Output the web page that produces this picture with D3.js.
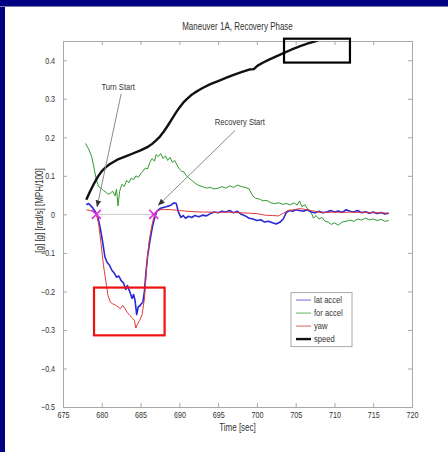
<!DOCTYPE html>
<html>
<head>
<meta charset="UTF-8">
<title>Maneuver 1A, Recovery Phase</title>
<script src="https://d3js.org/d3.v7.min.js"></script>
<style>
    body { margin: 0; background: #000080; }
    svg { display: block; }
    text { font-family: "Liberation Sans", Arial, sans-serif; fill: #333; }
    /* the original uses a narrow face; squeeze the glyphs horizontally */
    .nar { transform-box: fill-box; transform-origin: center; transform: scaleX(0.8); }
    .nar-r { transform-box: fill-box; transform-origin: right center; transform: scaleX(0.8); }
    .nar-l { transform-box: fill-box; transform-origin: left center; transform: scaleX(0.8); }
</style>
</head>
<body>
<svg id="chart" width="448" height="452"></svg>
<script>
// data: [time sec, value]
const latAccel = [
    [678.0, 0.025], [678.3, 0.028], [678.6, 0.022], [678.9, 0.015], [679.2, 0.006], [679.5, -0.008],
    [679.8, -0.035], [680.1, -0.07], [680.4, -0.11], [680.7, -0.125], [681.0, -0.132], [681.3, -0.145],
    [681.6, -0.152], [681.9, -0.163], [682.2, -0.16], [682.5, -0.172], [682.8, -0.178], [683.1, -0.195],
    [683.3, -0.185], [683.6, -0.2], [683.9, -0.218], [684.1, -0.208], [684.3, -0.225], [684.5, -0.26],
    [684.7, -0.24], [684.9, -0.238], [685.1, -0.232], [685.3, -0.228], [685.5, -0.2], [685.7, -0.15],
    [685.9, -0.11], [686.2, -0.07], [686.5, -0.035], [686.8, -0.01], [687.1, 0.008], [687.5, 0.015],
    [687.9, 0.018], [688.3, 0.02], [688.7, 0.022], [689.0, 0.025], [689.3, 0.03], [689.6, 0.028],
    [689.9, 0.005], [690.2, -0.008], [690.5, -0.003], [690.8, -0.01], [691.2, -0.005], [691.6, -0.008],
    [692.0, -0.003], [692.5, -0.006], [693.0, -0.002], [693.5, -0.004], [694.0, 0.002], [694.5, 0.006],
    [695.0, 0.004], [695.5, 0.008], [696.0, 0.006], [696.5, 0.01], [697.0, 0.004], [697.5, 0.008],
    [698.0, 0.0], [698.5, -0.004], [699.0, -0.01], [699.5, -0.012], [700.0, -0.016], [700.5, -0.014],
    [701.0, -0.02], [701.5, -0.018], [702.0, -0.022], [702.5, -0.025], [703.0, -0.02], [703.4, -0.012],
    [703.8, 0.005], [704.2, 0.01], [704.6, 0.008], [705.0, 0.012], [705.5, 0.01], [706.0, 0.008],
    [706.5, 0.012], [707.0, 0.006], [707.5, 0.004], [708.0, 0.008], [708.5, 0.004], [709.0, 0.006],
    [709.5, 0.01], [710.0, 0.006], [710.5, 0.009], [711.0, 0.005], [711.5, 0.012], [712.0, 0.008],
    [712.5, 0.006], [713.0, 0.01], [713.5, 0.004], [714.0, 0.007], [714.5, 0.003], [715.0, 0.006],
    [715.5, 0.002], [716.0, 0.005], [716.5, 0.001], [717.0, 0.003]
];
const forAccel = [
    [677.9, 0.184], [678.3, 0.17], [678.7, 0.15], [679.0, 0.12], [679.3, 0.09], [679.6, 0.072],
    [679.9, 0.068], [680.2, 0.062], [680.5, 0.058], [680.8, 0.052], [681.1, 0.055], [681.4, 0.06],
    [681.7, 0.048], [681.9, 0.065], [682.1, 0.022], [682.3, 0.06], [682.6, 0.078], [682.9, 0.072],
    [683.2, 0.088], [683.5, 0.082], [683.8, 0.094], [684.1, 0.09], [684.4, 0.1], [684.7, 0.096],
    [685.0, 0.105], [685.3, 0.112], [685.6, 0.12], [685.9, 0.118], [686.2, 0.135], [686.5, 0.145],
    [686.8, 0.138], [687.0, 0.155], [687.3, 0.15], [687.6, 0.158], [687.9, 0.145], [688.2, 0.152],
    [688.5, 0.14], [688.8, 0.148], [689.1, 0.135], [689.4, 0.14], [689.7, 0.128], [690.0, 0.118],
    [690.3, 0.112], [690.6, 0.11], [690.9, 0.1], [691.2, 0.095], [691.5, 0.09], [691.8, 0.085],
    [692.1, 0.08], [692.5, 0.075], [693.0, 0.072], [693.5, 0.068], [694.0, 0.07], [694.5, 0.066],
    [695.0, 0.068], [695.5, 0.072], [696.0, 0.068], [696.5, 0.074], [697.0, 0.07], [697.5, 0.076],
    [698.0, 0.072], [698.5, 0.07], [699.0, 0.066], [699.4, 0.05], [699.8, 0.042], [700.3, 0.04],
    [700.8, 0.035], [701.3, 0.036], [701.8, 0.03], [702.3, 0.028], [702.8, 0.03], [703.3, 0.026],
    [703.8, 0.028], [704.3, 0.025], [704.8, 0.03], [705.2, 0.024], [705.5, 0.035], [705.8, 0.02],
    [706.2, 0.025], [706.6, 0.012], [707.0, 0.005], [707.3, -0.01], [707.6, -0.003], [708.0, -0.012],
    [708.4, -0.008], [708.8, -0.018], [709.2, -0.02], [709.6, -0.026], [710.0, -0.022], [710.5, -0.028],
    [711.0, -0.02], [711.5, -0.018], [712.0, -0.015], [712.5, -0.018], [713.0, -0.012], [713.5, -0.015],
    [714.0, -0.01], [714.5, -0.014], [715.0, -0.012], [715.5, -0.016], [716.0, -0.013], [716.5, -0.018],
    [717.0, -0.016]
];
const yaw = [
    [678.0, 0.012], [678.5, 0.01], [679.0, 0.006], [679.3, 0.0], [679.6, -0.025], [679.9, -0.075],
    [680.2, -0.13], [680.5, -0.17], [680.8, -0.21], [681.1, -0.228], [681.4, -0.232], [681.8, -0.236],
    [682.1, -0.24], [682.4, -0.245], [682.7, -0.236], [683.0, -0.245], [683.3, -0.255], [683.6, -0.262],
    [683.9, -0.268], [684.2, -0.275], [684.4, -0.295], [684.6, -0.285], [684.9, -0.275], [685.2, -0.26],
    [685.5, -0.22], [685.8, -0.13], [686.1, -0.07], [686.4, -0.035], [686.7, -0.008], [687.0, 0.006],
    [687.5, 0.012], [688.0, 0.013], [689.0, 0.012], [690.0, 0.01], [691.0, 0.008], [692.0, 0.007],
    [693.0, 0.006], [694.0, 0.006], [695.0, 0.005], [696.0, 0.006], [697.0, 0.005], [698.0, 0.004],
    [699.0, 0.003], [700.0, 0.002], [701.0, -0.002], [702.0, -0.003], [702.8, -0.004], [703.5, 0.004],
    [704.0, 0.01], [704.8, 0.012], [705.5, 0.015], [706.2, 0.013], [707.0, 0.01], [708.0, 0.006],
    [709.0, 0.005], [710.0, 0.006], [711.0, 0.005], [712.0, 0.006], [713.0, 0.005], [714.0, 0.006],
    [715.0, 0.004], [716.0, 0.004], [717.0, 0.003]
];
const speed = [
    [678.0, 0.038], [678.5, 0.06], [679.0, 0.08], [679.5, 0.098], [680.0, 0.112], [680.5, 0.122],
    [681.0, 0.13], [682.0, 0.142], [683.0, 0.15], [684.0, 0.158], [685.0, 0.166], [686.0, 0.176],
    [686.5, 0.183], [687.0, 0.192], [687.5, 0.202], [688.0, 0.215], [688.5, 0.23], [689.0, 0.246],
    [689.5, 0.262], [690.0, 0.277], [690.5, 0.29], [691.0, 0.3], [691.5, 0.309], [692.0, 0.316],
    [692.5, 0.322], [693.0, 0.328], [694.0, 0.338], [695.0, 0.346], [696.0, 0.354], [697.0, 0.362],
    [698.0, 0.369], [699.0, 0.376], [699.6, 0.377], [700.1, 0.386], [700.7, 0.393], [701.5, 0.401],
    [702.5, 0.41], [703.5, 0.419], [704.5, 0.428], [705.5, 0.436], [706.5, 0.443], [707.5, 0.449],
    [708.2, 0.455]
];

const xTicks = [675, 680, 685, 690, 695, 700, 705, 710, 715, 720];
const yTicks = [0.4, 0.3, 0.2, 0.1, 0, -0.1, -0.2, -0.3, -0.4, -0.5];

const seriesNames = ["lat accel", "for accel", "yaw", "speed"];

// event markers (x) and annotation callouts
const events = [679.3, 686.7];
const callouts = [
    { label: "Turn Start", tx: 682.1, ty: 0.332, x1: 682.5, y1: 0.313, x2: 679.4, y2: 0.02 },
    { label: "Recovery Start", tx: 697.8, ty: 0.241, x1: 697.2, y1: 0.218, x2: 687.3, y2: 0.024 }
];
const boxes = [
    { x0: 679.0, x1: 688.1, y0: -0.19, y1: -0.314, color: "#ee1111" },
    { x0: 703.5, x1: 712.0, y0: 0.456, y1: 0.394, color: "#000" }
];

const margin = { top: 41, right: 36, bottom: 45, left: 63 },
    W = 448, H = 452,
    width = W - margin.left - margin.right,
    height = H - margin.top - margin.bottom;

const svg = d3.select("#chart");

// slide frame
svg.append("rect").attr("width", W).attr("height", H).attr("fill", "#000080");
svg.append("rect").attr("x", 0).attr("y", 6).attr("width", W).attr("height", 1).attr("fill", "#7a7aaa");
svg.append("rect").attr("x", 5).attr("y", 7).attr("width", W - 5).attr("height", H - 7).attr("fill", "#fff");

const g = svg.append("g").attr("transform", `translate(${margin.left},${margin.top})`);

const x = d3.scaleLinear().domain([675, 720]).range([0, width]);
const y = d3.scaleLinear().domain([-0.5, 0.45]).range([height, 0]);

svg.append("defs").append("clipPath").attr("id", "clip")
    .append("rect").attr("width", width).attr("height", height);

// axes with inward ticks on all four sides
const fmt = d => d === 0 ? "0" : d3.format(".1f")(d);
const xAxis = g.append("g").attr("class", "axis").attr("transform", `translate(0,${height})`)
    .call(d3.axisBottom(x).tickValues(xTicks).tickSizeInner(-4).tickSizeOuter(0).tickPadding(5));
g.append("g").attr("class", "axis")
    .call(d3.axisTop(x).tickValues(xTicks).tickSizeInner(-4).tickSizeOuter(0).tickFormat(""));
const yAxis = g.append("g").attr("class", "axis")
    .call(d3.axisLeft(y).tickValues(yTicks).tickSizeInner(-4).tickSizeOuter(0).tickPadding(8).tickFormat(fmt));
g.append("g").attr("class", "axis").attr("transform", `translate(${width},0)`)
    .call(d3.axisRight(y).tickValues(yTicks).tickSizeInner(-4).tickSizeOuter(0).tickFormat(""));
g.selectAll(".axis path, .axis line").attr("stroke", "#a8a8a8");
g.selectAll(".axis text").attr("font-size", 9).attr("fill", "#444")
    .style("font-family", '"Liberation Sans", Arial, sans-serif');
xAxis.selectAll("text").attr("class", "nar");
yAxis.selectAll("text").attr("class", "nar-r");

// zero reference between events
g.append("line")
    .attr("x1", x(events[0])).attr("x2", x(events[1]))
    .attr("y1", y(0)).attr("y2", y(0))
    .attr("stroke", "#c8c8c8").attr("stroke-width", 1);

const line = d3.line().x(d => x(d[0])).y(d => y(d[1]));
const plot = g.append("g").attr("clip-path", "url(#clip)");
const series = [
    { data: forAccel, color: "#2f9a2f", w: 1 },
    { data: latAccel, color: "#2828d8", w: 1.6 },
    { data: yaw, color: "#e03a3a", w: 1 },
    { data: speed, color: "#111", w: 2.4 }
];
series.forEach(s => {
    plot.append("path").datum(s.data)
        .attr("fill", "none").attr("stroke", s.color)
        .attr("stroke-width", s.w).attr("stroke-linejoin", "round")
        .attr("d", line);
});

// event markers
events.forEach(t => {
    const cx = x(t), cy = y(0), r = 4.5;
    g.append("path")
        .attr("d", `M${cx - r},${cy - r}L${cx + r},${cy + r}M${cx - r},${cy + r}L${cx + r},${cy - r}`)
        .attr("stroke", "#e030e0").attr("stroke-width", 1.6);
});

// callouts
const defs = svg.select("defs");
defs.append("marker").attr("id", "arrow").attr("viewBox", "0 0 10 10")
    .attr("refX", 9).attr("refY", 5).attr("markerWidth", 7).attr("markerHeight", 7)
    .attr("orient", "auto-start-reverse")
    .append("path").attr("d", "M0,1L10,5L0,9Z").attr("fill", "#333");
callouts.forEach(c => {
    g.append("line")
        .attr("x1", x(c.x1)).attr("y1", y(c.y1)).attr("x2", x(c.x2)).attr("y2", y(c.y2))
        .attr("stroke", "#8a8a8a").attr("stroke-width", 1).attr("marker-end", "url(#arrow)");
    g.append("text").attr("class", "nar").attr("x", x(c.tx)).attr("y", y(c.ty)).attr("dy", "0.35em")
        .attr("text-anchor", "middle").attr("font-size", 9.5).text(c.label);
});

// highlight boxes
boxes.forEach(b => {
    g.append("rect")
        .attr("x", x(b.x0)).attr("y", y(b.y0))
        .attr("width", x(b.x1) - x(b.x0)).attr("height", y(b.y1) - y(b.y0))
        .attr("fill", "none").attr("stroke", b.color).attr("stroke-width", 2.2);
});

// legend
const legend = g.append("g").attr("transform", `translate(${x(704.4)},${y(-0.203)})`);
legend.append("rect").attr("width", 61).attr("height", 54)
    .attr("fill", "#fff").attr("stroke", "#aaa").attr("stroke-width", 1);
const legendColors = ["#6a6ae0", "#60b060", "#e06060", "#111"];
const legendWidths = [1, 1, 1, 2.4];
seriesNames.forEach((n, i) => {
    const ly = 7.5 + i * 13;
    legend.append("line").attr("x1", 5).attr("x2", 20).attr("y1", ly).attr("y2", ly)
        .attr("stroke", legendColors[i]).attr("stroke-width", legendWidths[i]);
    legend.append("text").attr("class", "nar-l").attr("x", 23).attr("y", ly).attr("dy", "0.35em")
        .attr("font-size", 9.5).text(n);
});

// titles
g.append("text").attr("class", "nar").attr("x", width / 2).attr("y", -11)
    .attr("text-anchor", "middle").attr("font-size", 10).text("Maneuver 1A, Recovery Phase");
g.append("text").attr("class", "nar").attr("x", width / 2).attr("y", height + 24)
    .attr("text-anchor", "middle").attr("font-size", 10).text("Time [sec]");
g.append("g").attr("transform", `translate(-20,${y(0.01)}) rotate(-90)`)
    .append("text").attr("class", "nar")
    .attr("text-anchor", "middle").attr("font-size", 10).text("[g] [g] [rad/s] [MPH/100]");
</script>
</body>
</html>
